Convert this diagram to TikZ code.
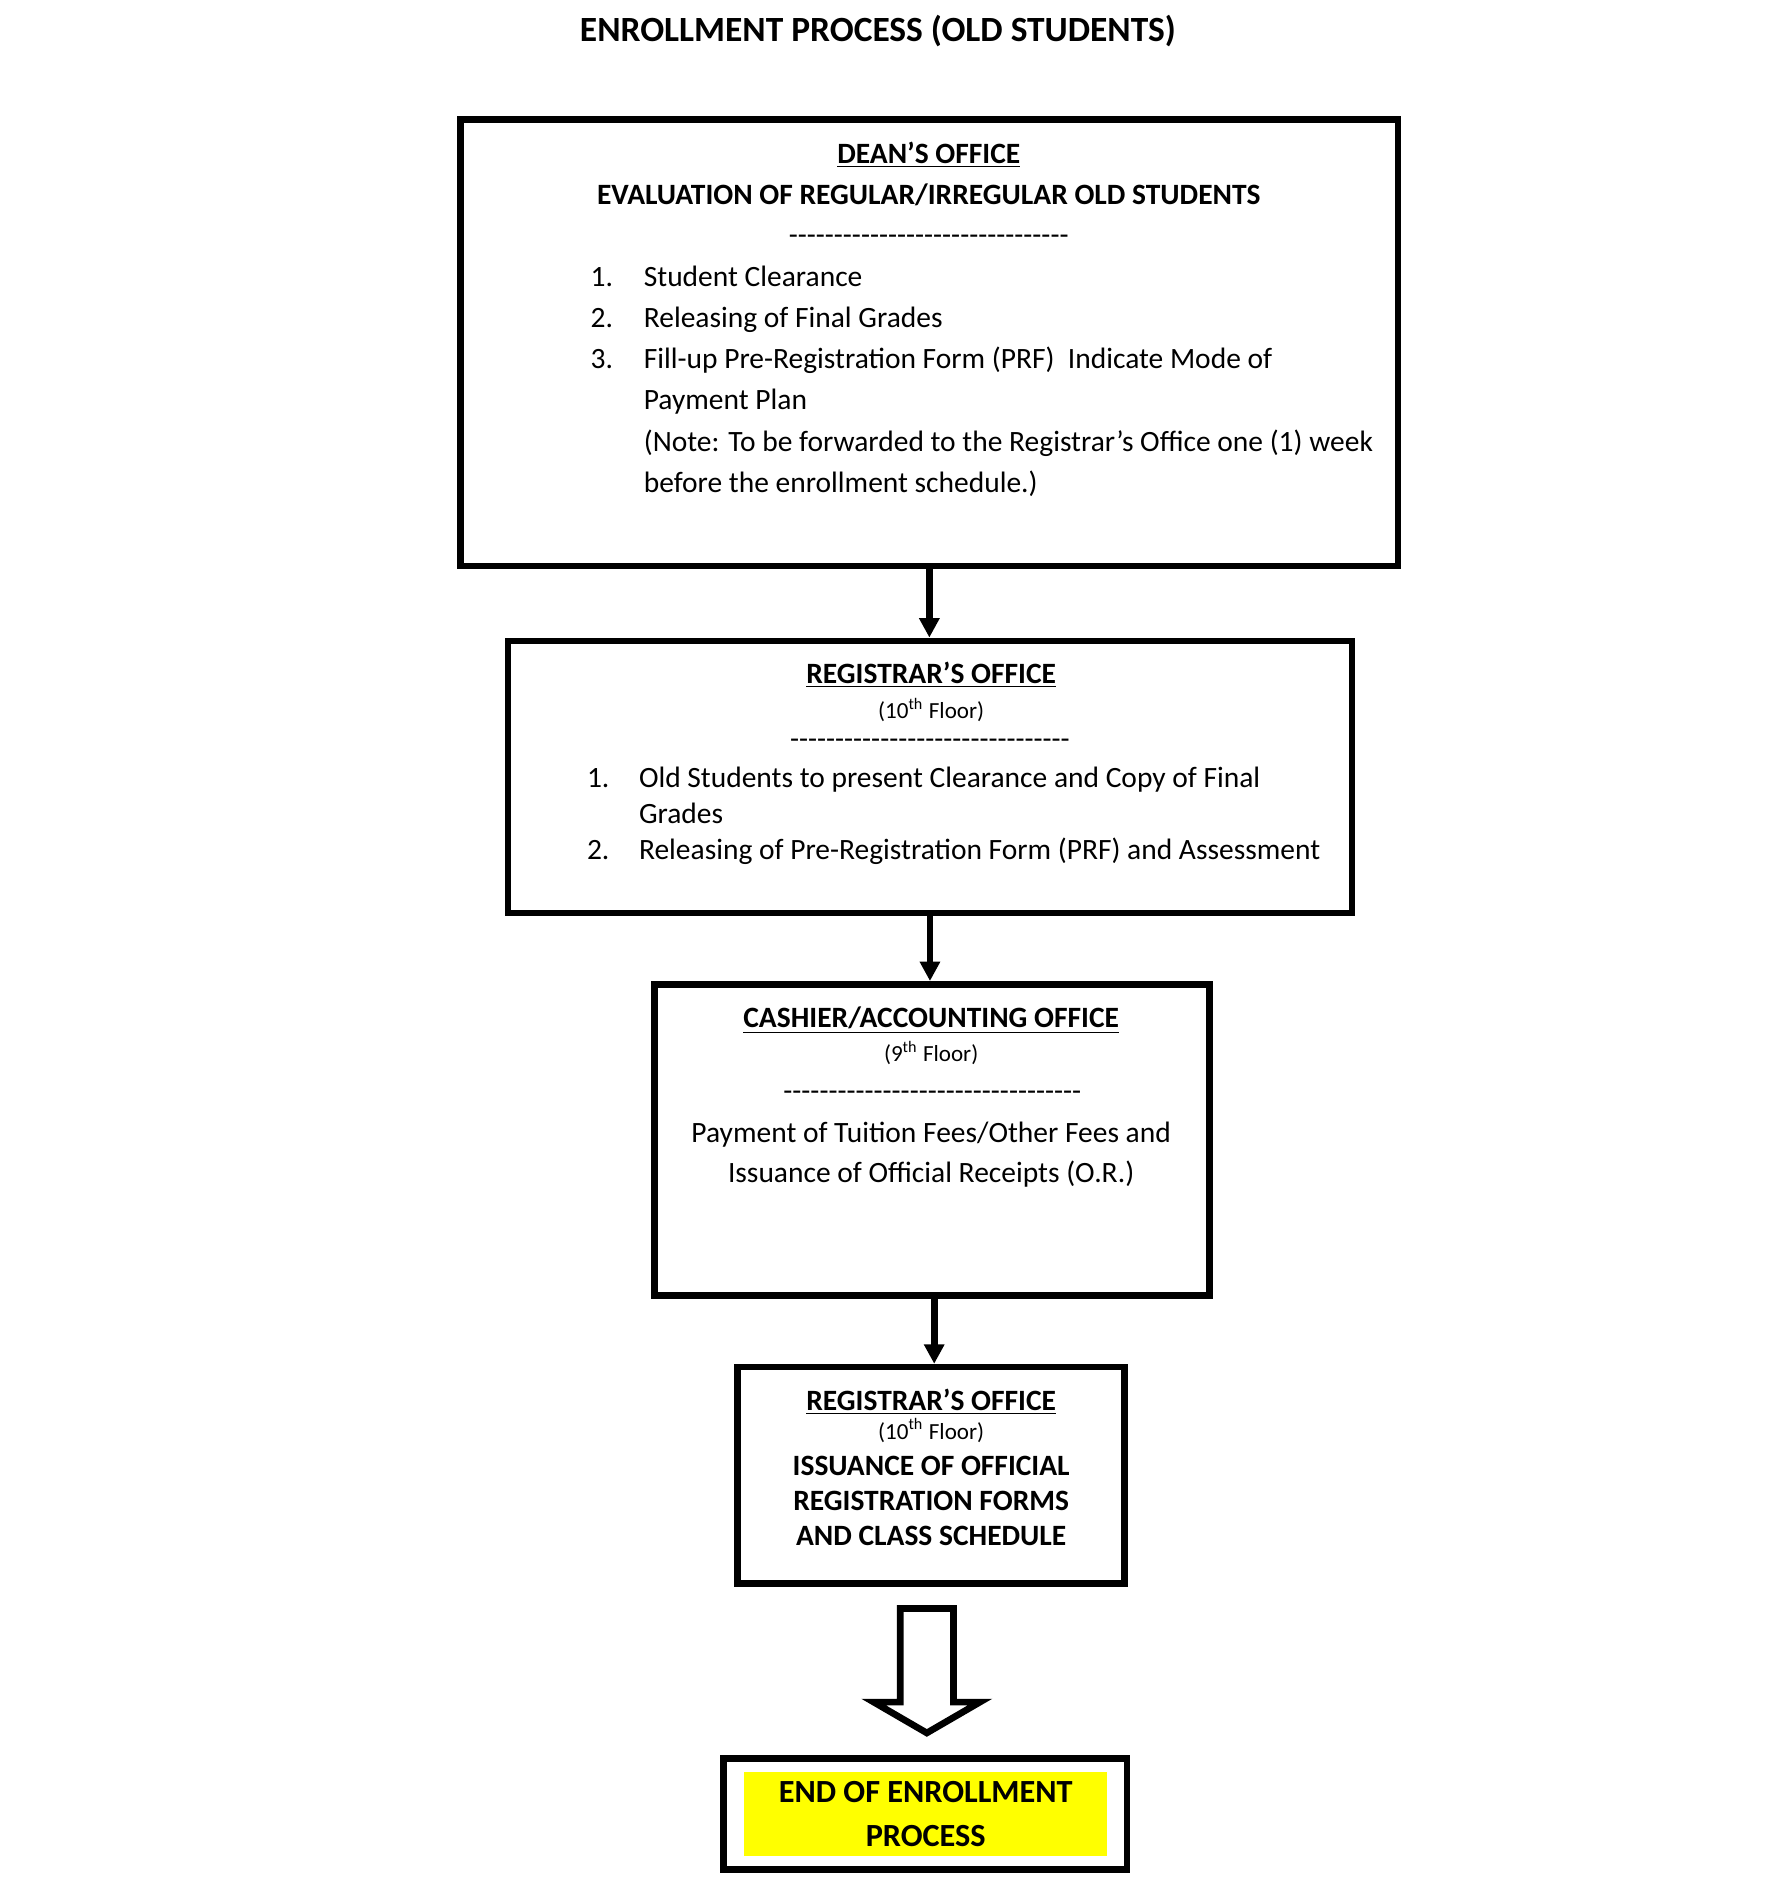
\documentclass[tikz,border=0pt]{standalone}
\usepackage{fontspec}
\setmainfont{Carlito}
\usetikzlibrary{arrows.meta}
\definecolor{hiyellow}{RGB}{255,255,0}
\newcount\mydashcnt
\newcommand{\dashrow}[1]{\mydashcnt=0 \loop-\kern0pt\advance\mydashcnt by 1 \ifnum\mydashcnt<#1 \repeat}
\newcommand{\pxu}{0.49825pt}
\begin{document}
\begin{tikzpicture}[x=0.49825pt,y=-0.49825pt,
  box/.style={draw, line width=2.75pt, inner sep=0pt},
  body/.style={font=\fontsize{12.15}{14}\selectfont, inner sep=0pt, anchor=base},
  bodyw/.style={body, anchor=base west},
  head/.style={font=\fontsize{12.15}{14}\selectfont\bfseries, inner sep=0pt, anchor=base},
  floor/.style={font=\fontsize{9.5}{11}\selectfont, inner sep=0pt, anchor=base},
  conn/.style={line width=2.75pt, -{Triangle[width=8pt,length=8pt]}},
  bigarrow/.style={draw, line width=2.75pt, fill=white, miter limit=20}]
\useasboundingbox (0,0) rectangle (1475.2,1569.5);

% title
\node[font=\fontsize{14.6}{17}\selectfont\bfseries, inner sep=0pt, anchor=base] (title) at (726,34) {ENROLLMENT PROCESS (OLD STUDENTS)};

% box 1
\node[box, minimum width={775*\pxu}, minimum height={369*\pxu}] (b1) at (768.5,283.5) {};
\node[head] (b1h) at (768,135) {\underline{DEAN’S OFFICE}};
\node[head] (b1s) at (768,169) {EVALUATION OF REGULAR/IRREGULAR OLD STUDENTS};
\node[body] (b1d) at (768,202) {\dashrow{31}};
\node[bodyw] (b1n1) at (488,237) {1.};
\node[bodyw] (b1i1) at (532,237) {Student Clearance};
\node[bodyw] (b1n2) at (488,271) {2.};
\node[bodyw] (b1i2) at (532,271) {Releasing of Final Grades};
\node[bodyw] (b1n3) at (488,305) {3.};
\node[bodyw] (b1i3) at (532,305) {Fill-up Pre-Registration Form (PRF)\ \ Indicate Mode of};
\node[bodyw] (b1i4) at (532,339) {Payment Plan};
\node[bodyw] (b1i5) at (532,373) {(Note: To be forwarded to the Registrar’s Office one (1) week};
\node[bodyw] (b1i6) at (532,407) {before the enrollment schedule.)};

% box 2
\node[box, minimum width={698*\pxu}, minimum height={225*\pxu}] (b2) at (769,642.5) {};
\node[head] (b2h) at (770,565) {\underline{REGISTRAR’S OFFICE}};
\node[floor] (b2f) at (770,594) {(10\textsuperscript{th} Floor)};
\node[body] (b2d) at (769,619) {\dashrow{31}};
\node[bodyw] (b2n1) at (485,651) {1.};
\node[bodyw] (b2i1) at (528,651) {Old Students to present Clearance and Copy of Final};
\node[bodyw] (b2i2) at (528,681) {Grades};
\node[bodyw] (b2n2) at (485,711) {2.};
\node[bodyw] (b2i3) at (528,711) {Releasing of Pre-Registration Form (PRF) and Assessment};

% box 3
\node[box, minimum width={459*\pxu}, minimum height={257*\pxu}] (b3) at (770.5,942.5) {};
\node[head] (b3h) at (770,850) {\underline{CASHIER/ACCOUNTING OFFICE}};
\node[floor] (b3f) at (770,878) {(9\textsuperscript{th} Floor)};
\node[body] (b3d) at (771,910) {\dashrow{33}};
\node[body] (b3t1) at (770,945) {Payment of Tuition Fees/Other Fees and};
\node[body] (b3t2) at (770,978) {Issuance of Official Receipts (O.R.)};

% box 4
\node[box, minimum width={320*\pxu}, minimum height={179*\pxu}] (b4) at (770,1220) {};
\node[head] (b4h) at (770,1166) {\underline{REGISTRAR’S OFFICE}};
\node[floor] (b4f) at (770,1190) {(10\textsuperscript{th} Floor)};
\node[head] (b4t1) at (770,1220) {ISSUANCE OF OFFICIAL};
\node[head] (b4t2) at (770,1249) {REGISTRATION FORMS};
\node[head] (b4t3) at (770,1278) {AND CLASS SCHEDULE};

% final box
\node[box, minimum width={334*\pxu}, minimum height={92*\pxu}] (fin) at (765,1500) {};
\node[fill=hiyellow, inner sep=0pt, minimum width={300*\pxu}, minimum height={69*\pxu}, align=center,
      font=\fontsize{13.3}{18.5}\selectfont\bfseries] (finy) at (765.5,1500) {END OF ENROLLMENT\\PROCESS};

% connectors
\draw[conn] (b1.south) -- (b1.south |- b2.north);
\draw[conn] (b2.south) -- (b2.south |- b3.north);
\draw[conn] ([xshift=1pt]b3.south) -- ([xshift=1pt]b3.south |- b4.north);

% big hollow arrow (from box 4 towards the final box)
\draw[bigarrow] (744.4,1330.1) -- (788.5,1330.1) -- (788.5,1407.5) -- (810.3,1407.5)
  -- (766.4,1433) -- (722.5,1407.5) -- (744.4,1407.5) -- cycle;
\end{tikzpicture}
\end{document}
